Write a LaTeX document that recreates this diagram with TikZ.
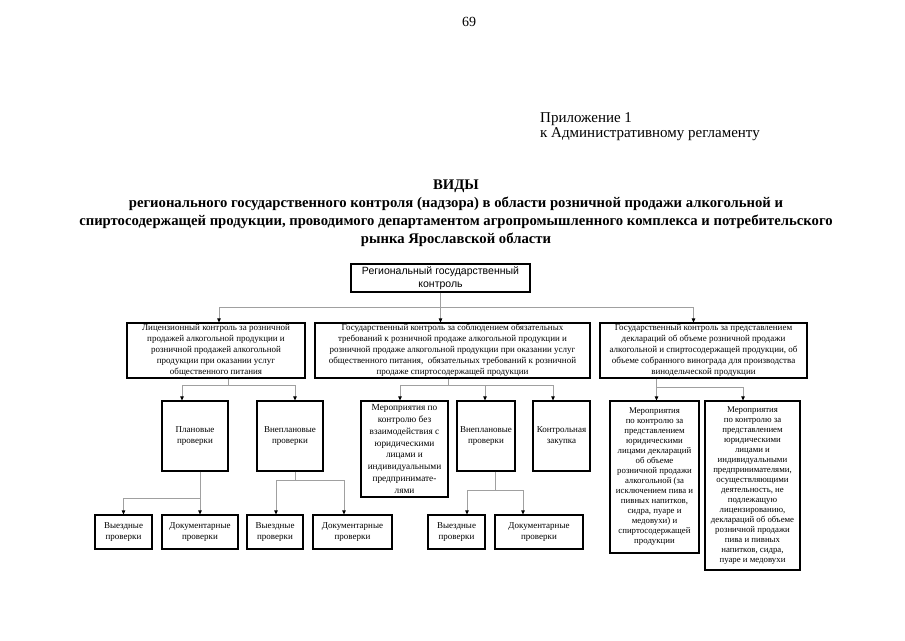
\documentclass[tikz,border=0pt]{standalone}
\usepackage{fontspec}
\setmainfont{Liberation Serif}
\newfontfamily\sansru{Liberation Sans}
\usepackage{tikz}
\usetikzlibrary{arrows.meta, positioning}
\definecolor{lineGray}{RGB}{160,160,160}

\begin{document}
\begin{tikzpicture}[x=1pt, y=-1pt,
  box/.style={draw=black, line width=1.1pt, align=center, inner sep=1pt,
    font=\fontsize{9}{11}\selectfont},
  conn/.style={draw=lineGray, line width=0.8pt},
  arr/.style={conn, -{Triangle[length=4pt, width=3.5pt, color=black]}}]
  \fill[white] (0,0) rectangle (905,640);
  \useasboundingbox (0,0) rectangle (905,640);

  % Page header
  \node[font=\fontsize{14}{15}\selectfont] (pnum) at (469,22) {69};
  \node[anchor=west, align=left, inner sep=0pt, font=\fontsize{15}{15}\selectfont] (annex) at (540,127)
    {Приложение 1\\к Административному регламенту};
  \node[align=center, font=\bfseries\fontsize{14.7}{18}\selectfont] (title) at (456,213)
    {ВИДЫ\\
     регионального государственного контроля (надзора) в области розничной продажи алкогольной и\\
     спиртосодержащей продукции, проводимого департаментом агропромышленного комплекса и потребительского\\
     рынка Ярославской области};

  % Root
  \node[box, font=\sansru\fontsize{10.5}{13}\selectfont, minimum width=179pt, minimum height=28pt]
    (top) at (440.5,278) {Региональный государственный\\контроль};

  % Level 1
  \node[box, minimum width=178pt, minimum height=55pt] (lic) at (216,350.5)
    {Лицензионный контроль за розничной\\ продажей алкогольной продукции и\\
     розничной продажей алкогольной\\ продукции при оказании услуг\\ общественного питания};
  \node[box, minimum width=275pt, minimum height=55pt] (obz) at (452.5,350.5)
    {Государственный контроль за соблюдением обязательных\\
     требований к розничной продаже алкогольной продукции и\\
     розничной продаже алкогольной продукции при оказании услуг\\
     общественного питания,\ \ обязательных требований к розничной\\
     продаже спиртосодержащей продукции};
  \node[box, minimum width=207pt, minimum height=55pt] (dekl) at (703.5,350.5)
    {Государственный контроль за представлением\\ деклараций об объеме розничной продажи\\
     алкогольной и спиртосодержащей продукции, об\\ объеме собранного винограда для производства\\
     винодельческой продукции};

  % Level 2
  \node[box, minimum width=66pt, minimum height=70pt] (plan) at (195,436) {Плановые\\ проверки};
  \node[box, minimum width=66pt, minimum height=70pt] (vnA) at (290,436) {Внеплановые\\ проверки};
  \node[box, font=\fontsize{9.3}{11.8}\selectfont, minimum width=87pt, minimum height=96pt] (mer) at (404.5,449)
    {Мероприятия по\\ контролю без\\ взаимодействия с\\ юридическими\\ лицами и\\ индивидуальными\\
     предпринимате-\\ лями};
  \node[box, minimum width=58pt, minimum height=70pt] (vnB) at (486,436) {Внеплановые\\ проверки};
  \node[box, minimum width=57pt, minimum height=70pt] (zak) at (561.5,436) {Контрольная\\ закупка};
  \node[box, font=\fontsize{8.8}{10}\selectfont, minimum width=89pt, minimum height=152pt] (decA) at (654.5,477)
    {Мероприятия\\ по контролю за\\ представлением\\ юридическими\\ лицами деклараций\\ об объеме\\
     розничной продажи\\ алкогольной (за\\ исключением пива и\\ пивных напитков,\\ сидра, пуаре и\\
     медовухи) и\\ спиртосодержащей\\ продукции};
  \node[box, font=\fontsize{8.8}{10}\selectfont, minimum width=95pt, minimum height=169pt] (decB) at (752.5,485.5)
    {Мероприятия\\ по контролю за\\ представлением\\ юридическими\\ лицами и\\ индивидуальными\\
     предпринимателями,\\ осуществляющими\\ деятельность, не\\ подлежащую\\ лицензированию,\\
     деклараций об объеме\\ розничной продажи\\ пива и пивных\\ напитков, сидра,\\ пуаре и медовухи};

  % Level 3
  \node[box, minimum width=57pt, minimum height=34pt] (vyA) at (123.5,532) {Выездные\\ проверки};
  \node[box, minimum width=76pt, minimum height=34pt] (dokA) at (200,532) {Документарные\\ проверки};
  \node[box, minimum width=56pt, minimum height=34pt] (vyB) at (275,532) {Выездные\\ проверки};
  \node[box, minimum width=79pt, minimum height=34pt] (dokB) at (352.5,532) {Документарные\\ проверки};
  \node[box, minimum width=57pt, minimum height=34pt] (vyC) at (456.5,532) {Выездные\\ проверки};
  \node[box, minimum width=88pt, minimum height=34pt] (dokC) at (539,532) {Документарные\\ проверки};

  % Connectors: root
  \draw[conn] (top.south) -- ++(0,15) coordinate (j0);
  \draw[arr] (j0) -| ([xshift=3pt]lic.north);
  \draw[arr] (j0) -- (obz.north -| j0);
  \draw[arr] (j0) -| ([xshift=-10pt]dekl.north);

  % licensing branch
  \draw[conn] ([xshift=12pt]lic.south) -- ++(0,7) coordinate (j1);
  \draw[arr] (j1) -| ([xshift=-13pt]plan.north);
  \draw[arr] (j1) -| ([xshift=5pt]vnA.north);
  \draw[conn] ([xshift=5pt]plan.south) -- ++(0,27) coordinate (j2);
  \draw[arr] (j2) -| (vyA.north);
  \draw[arr] (j2) -- (dokA.north -| j2);
  \draw[conn] ([xshift=5pt]vnA.south) -- ++(0,9) coordinate (j3);
  \draw[arr] (j3) -| ([xshift=1pt]vyB.north);
  \draw[arr] (j3) -| ([xshift=-8.5pt]dokB.north);

  % mandatory requirements branch
  \draw[conn] ([xshift=-4.5pt]obz.south) -- ++(0,7) coordinate (j4);
  \draw[arr] (j4) -| ([xshift=-4.5pt]mer.north);
  \draw[arr] (j4) -| ([xshift=-1pt]vnB.north);
  \draw[arr] (j4) -| ([xshift=-8.5pt]zak.north);
  \draw[conn] ([xshift=9pt]vnB.south) -- ++(0,19) coordinate (j5);
  \draw[arr] (j5) -| ([xshift=10.5pt]vyC.north);
  \draw[arr] (j5) -| ([xshift=-16pt]dokC.north);

  % declarations branch
  \draw[conn] ([xshift=-47pt]dekl.south) -- ++(0,9) coordinate (j6);
  \draw[arr] (j6) -- (decA.north -| j6);
  \draw[arr] (j6) -| ([xshift=-9.5pt]decB.north);
\end{tikzpicture}
\end{document}
